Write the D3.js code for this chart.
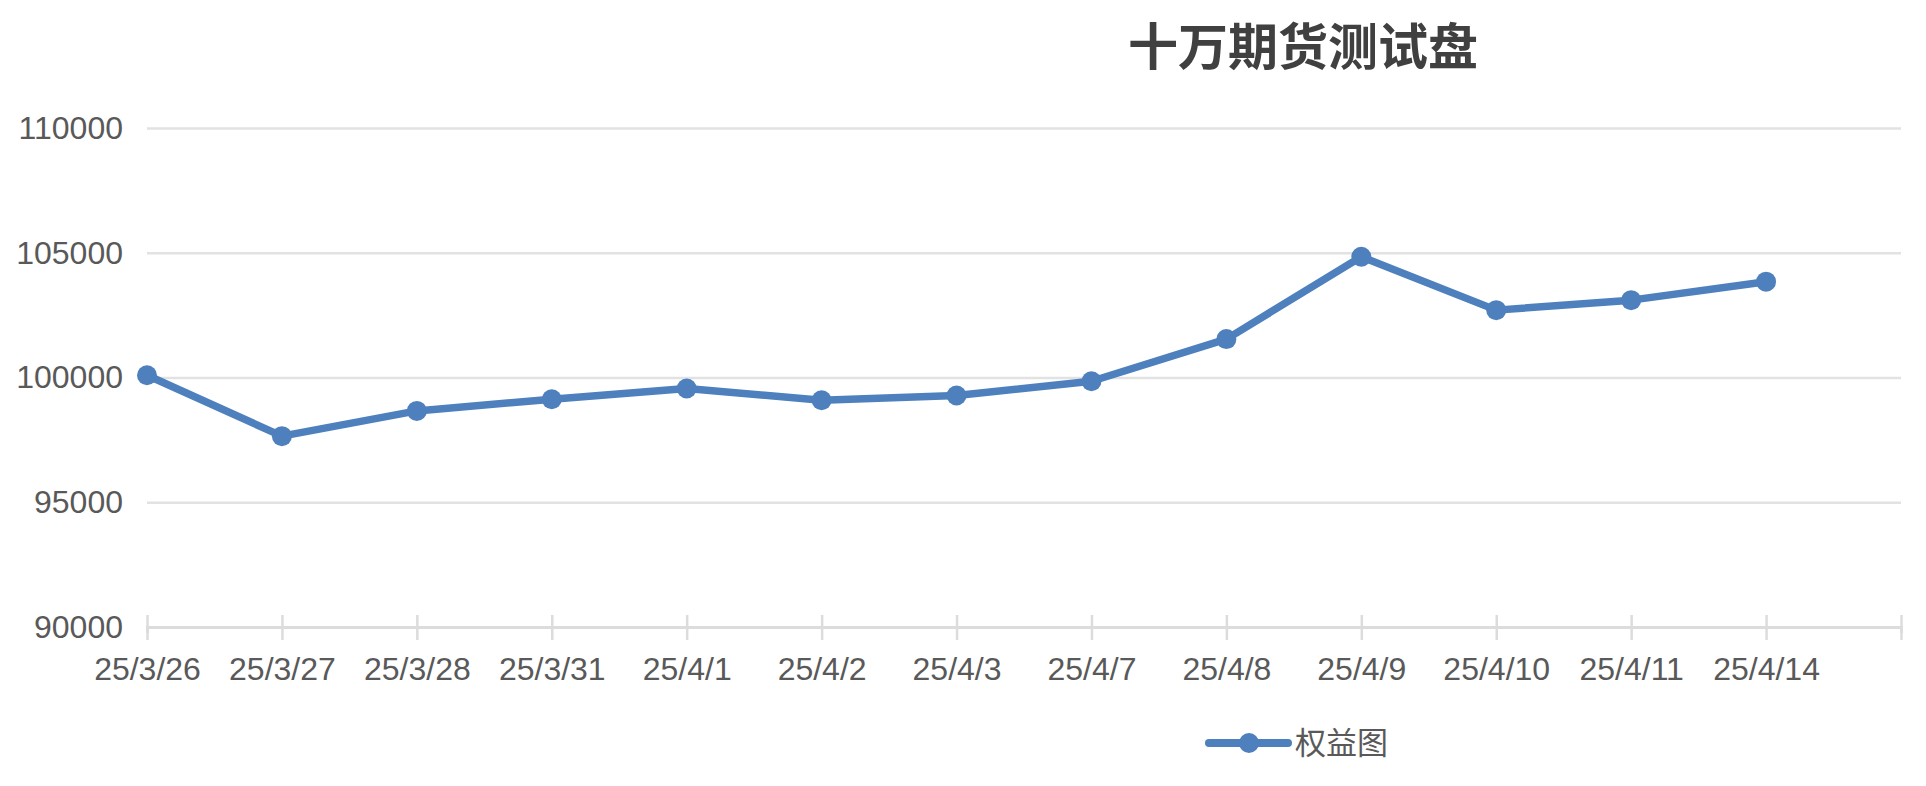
<!DOCTYPE html>
<html>
<head>
<meta charset="utf-8">
<script src="https://cdn.jsdelivr.net/npm/d3@7"></script>
<style>
  body { margin: 0; background: #fff; }
  .tick text { font-family: "Liberation Sans", Arial, sans-serif; font-size: 32px; fill: #595959; }
</style>
</head>
<body>
<div class="canvas"></div>
<script>
// chart data
const dates = ["25/3/26", "25/3/27", "25/3/28", "25/3/31", "25/4/1", "25/4/2", "25/4/3",
    "25/4/7", "25/4/8", "25/4/9", "25/4/10", "25/4/11", "25/4/14"];
const equity = [100090, 97650, 98660, 99130, 99560, 99090, 99280,
    99850, 101540, 104840, 102700, 103100, 103840];
const yTicks = [90000, 95000, 100000, 105000, 110000];
const seriesName = "权益图";
const title = "十万期货测试盘";

const W = 1926, H = 786;
const margin = {top: 128, right: 25, bottom: 159, left: 147};
const graphWidth = W - margin.left - margin.right;
const graphHeight = H - margin.top - margin.bottom;

const svg = d3.select(".canvas")
  .append("svg")
    .attr("width", W)
    .attr("height", H);

const graph = svg.append("g")
    .attr('transform', `translate(${margin.left},${margin.top})`);

// one extra slot at the right end, like the original
const x = d3.scaleLinear()
    .domain([0, dates.length])
    .range([0, graphWidth]);

const y = d3.scaleLinear()
    .domain([90000, 110000])
    .range([graphHeight, 0]);

// y axis + grid
const yAxisGroup = graph.append('g')
    .call(d3.axisLeft(y).tickValues(yTicks).tickSize(-graphWidth).tickPadding(24).tickFormat(d3.format("d")));
yAxisGroup.select('.domain').remove();
yAxisGroup.selectAll('.tick line')
    .attr('stroke', '#e2e2e2')
    .attr('stroke-width', 2.5);

// x axis
const xAxisGroup = graph.append("g")
    .attr("transform", `translate(0,${graphHeight})`)
    .call(d3.axisBottom(x)
        .tickValues(d3.range(dates.length + 1))
        .tickFormat(i => dates[i] || ""));
xAxisGroup.select('.domain')
    .attr('stroke', '#dcdcdc')
    .attr('stroke-width', 3);
xAxisGroup.selectAll('.tick line')
    .attr('stroke', '#dcdcdc')
    .attr('stroke-width', 2.5)
    .attr('y1', -12)
    .attr('y2', 13);
xAxisGroup.selectAll('.tick text')
    .attr('y', 53)
    .attr('dy', 0);

// line
const line = d3.line()
    .x((d, i) => x(i))
    .y(d => y(d));

graph.append('path')
    .datum(equity)
    .attr('fill', 'none')
    .attr('stroke', '#4e80bd')
    .attr('stroke-width', 7.5)
    .attr('stroke-linejoin', 'round')
    .attr('d', line);

graph.selectAll('circle.pt')
    .data(equity)
    .enter()
    .append('circle')
        .attr('class', 'pt')
        .attr('cx', (d, i) => x(i))
        .attr('cy', d => y(d))
        .attr('r', 10)
        .attr('fill', '#4e80bd');

// title
svg.append('text')
    .attr('x', 1303)
    .attr('y', 65)
    .attr('text-anchor', 'middle')
    .style('font-family', '"Noto Sans CJK SC", sans-serif')
    .style('font-size', '50px')
    .style('font-weight', 'bold')
    .attr('fill', '#404040')
    .text(title);

// legend
const legend = svg.append('g').attr('transform', 'translate(1209,743)');
legend.append('line')
    .attr('x1', 0).attr('x2', 79)
    .attr('stroke', '#4e80bd')
    .attr('stroke-width', 8)
    .attr('stroke-linecap', 'round');
legend.append('circle')
    .attr('cx', 40)
    .attr('r', 10)
    .attr('fill', '#4e80bd');
legend.append('text')
    .attr('x', 86)
    .attr('y', 11)
    .style('font-family', '"Noto Sans CJK SC", sans-serif')
    .style('font-size', '31px')
    .attr('fill', '#595959')
    .text(seriesName);
</script>
</body>
</html>
